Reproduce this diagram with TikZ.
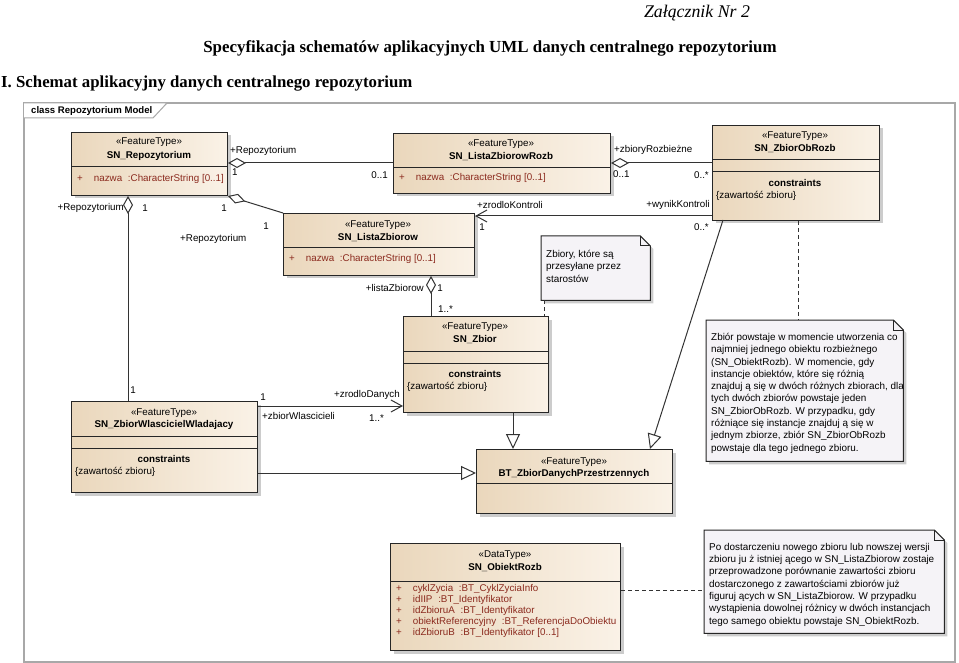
\documentclass[tikz,border=0pt]{standalone}
\usepackage{fontspec}
\setmainfont{Liberation Sans}
\newfontfamily\serifft{Liberation Serif}
\usetikzlibrary{arrows.meta,shadows,calc}
\definecolor{boxL}{HTML}{EAD7BC}
\definecolor{boxR}{HTML}{FAF2E7}
\definecolor{attrc}{HTML}{8B2A1E}
\definecolor{notefill}{HTML}{F5F3F7}
\definecolor{framecol}{HTML}{A8A8A8}
\definecolor{linec}{HTML}{333333}
\tikzset{
  umlbox/.style={draw=black!85, line width=1pt, left color=boxL, right color=boxR,
    inner sep=0pt, anchor=north west,
    drop shadow={shadow xshift=3pt, shadow yshift=-3pt, fill=black!25, opacity=0.8}},
  sepline/.style={draw=black!85, line width=1pt},
  txt/.style={inner sep=0pt, font=\fontsize{9.8}{11}\selectfont},
  bold/.style={inner sep=0pt, font=\fontsize{9.8}{11}\selectfont\bfseries},
  attr/.style={inner sep=0pt, anchor=west, text=attrc, font=\fontsize{9.8}{11}\selectfont},
  lbl/.style={inner sep=0pt, font=\fontsize{9.8}{11}\selectfont},
  conn/.style={draw=linec, line width=1pt},
  aggr/.style={conn, {Diamond[open,length=18pt,width=10pt]}-},
  nav/.style={conn, -{Straight Barb[length=11pt,width=12pt]}},
  gen/.style={conn, -{Triangle[open,length=15pt,width=14pt]}},
  dep/.style={draw=linec, line width=1pt, dash pattern=on 4pt off 3pt},
  notebox/.style={inner sep=0pt, anchor=north west},
  notetxt/.style={inner sep=0pt, anchor=north west, align=left, font=\fontsize{9.9}{12.3}\selectfont},
  notedraw/.style={draw=black!85, line width=1pt, fill=notefill},
  noteshadow/.style={fill=black!25, opacity=0.8},
}
\begin{document}
\begin{tikzpicture}[x=1pt,y=-1pt]
\useasboundingbox (0,0) rectangle (959,663);
% titles
\node[inner sep=0pt, font=\serifft\itshape\fontsize{17.8}{20}\selectfont] (zal) at (697,13) {Załącznik Nr 2};
\node[inner sep=0pt, font=\serifft\bfseries\fontsize{16.9}{19}\selectfont] (spec) at (490,48) {Specyfikacja schematów aplikacyjnych UML danych centralnego repozytorium};
\node[inner sep=0pt, anchor=west, font=\serifft\bfseries\fontsize{16.8}{20}\selectfont] (sch) at (1,84) {I. Schemat aplikacyjny danych centralnego repozytorium};
% frame
\draw[framecol, line width=1.2pt] (24,103) rectangle (955,662);
\draw[framecol, line width=1pt, fill=white] (24,103) -- (167,103) -- (153,118) -- (24,118);
\node[inner sep=0pt, anchor=west, font=\fontsize{9.6}{11}\selectfont\bfseries] (frm) at (31,111) {class Repozytorium Model};

% ---------- SN_Repozytorium
\node[umlbox, minimum width=156pt, minimum height=63pt] (rep) at (71,132) {};
\draw[sepline] (71,167) -- (227,167);
\node[txt] at (149,142) {«FeatureType»};
\node[bold] at (149,156) {SN\_Repozytorium};
\node[attr] at (77,179) {+\hspace{11pt}nazwa\hspace{3pt} :CharacterString [0..1]};

% ---------- SN_ListaZbiorow
\node[umlbox, minimum width=191pt, minimum height=62pt] (lz) at (283,213) {};
\draw[sepline] (283,248) -- (474,248);
\node[txt] at (378,225) {«FeatureType»};
\node[bold] at (378,238) {SN\_ListaZbiorow};
\node[attr] at (289,259) {+\hspace{11pt}nazwa\hspace{3pt} :CharacterString [0..1]};

% ---------- SN_ListaZbiorowRozb
\node[umlbox, minimum width=217pt, minimum height=60pt] (lzr) at (393,133) {};
\draw[sepline] (393,168) -- (610,168);
\node[txt] at (501,144) {«FeatureType»};
\node[bold] at (501,157) {SN\_ListaZbiorowRozb};
\node[attr] at (399,178) {+\hspace{11pt}nazwa\hspace{3pt} :CharacterString [0..1]};

% ---------- SN_ZbiorObRozb
\node[umlbox, minimum width=167pt, minimum height=95pt] (zor) at (712,125) {};
\draw[sepline] (712,160) -- (879,160);
\draw[sepline] (712,172) -- (879,172);
\node[txt] at (795,136) {«FeatureType»};
\node[bold] at (795,149) {SN\_ZbiorObRozb};
\node[bold] at (795,183) {constraints};
\node[txt, anchor=west] at (716,196) {\{zawartość zbioru\}};

% ---------- SN_Zbior
\node[umlbox, minimum width=145pt, minimum height=96pt] (zb) at (403,316) {};
\draw[sepline] (403,351) -- (548,351);
\draw[sepline] (403,363) -- (548,363);
\node[txt] at (475,327) {«FeatureType»};
\node[bold] at (475,340) {SN\_Zbior};
\node[bold] at (475,374) {constraints};
\node[txt, anchor=west] at (407,387) {\{zawartość zbioru\}};

% ---------- SN_ZbiorWlascicielWladajacy
\node[umlbox, minimum width=186pt, minimum height=91pt] (zww) at (71,401) {};
\draw[sepline] (71,436) -- (257,436);
\draw[sepline] (71,448) -- (257,448);
\node[txt] at (164,413) {«FeatureType»};
\node[bold] at (164,425) {SN\_ZbiorWlascicielWladajacy};
\node[bold] at (164,459) {constraints};
\node[txt, anchor=west] at (75,472) {\{zawartość zbioru\}};

% ---------- BT_ZbiorDanychPrzestrzennych
\node[umlbox, minimum width=196pt, minimum height=64pt] (bt) at (476,449) {};
\draw[sepline] (476,483) -- (672,483);
\node[txt] at (574,462) {«FeatureType»};
\node[bold] at (574,474) {BT\_ZbiorDanychPrzestrzennych};

% ---------- SN_ObiektRozb
\node[umlbox, minimum width=230pt, minimum height=107pt] (ob) at (390,543) {};
\draw[sepline] (390,581) -- (620,581);
\node[txt] at (505,555) {«DataType»};
\node[bold] at (505,568) {SN\_ObiektRozb};
\node[attr] at (396,589) {+\hspace{11pt}cyklZycia\hspace{3pt} :BT\_CyklZyciaInfo};
\node[attr] at (396,600) {+\hspace{11pt}idIIP\hspace{3pt} :BT\_Identyfikator};
\node[attr] at (396,611) {+\hspace{11pt}idZbioruA\hspace{3pt} :BT\_Identyfikator};
\node[attr] at (396,622) {+\hspace{11pt}obiektReferencyjny\hspace{3pt} :BT\_ReferencjaDoObiektu};
\node[attr] at (396,633) {+\hspace{11pt}idZbioruB\hspace{3pt} :BT\_Identyfikator [0..1]};

% ---------- notes
% note 1
\node[notebox, minimum width=109pt, minimum height=64pt] (n1) at (541,236) {};
\fill[noteshadow] ([shift={(3pt,-3pt)}]n1.north west) -- ([shift={(-7pt,-3pt)}]n1.north east) -- ([shift={(3pt,-13pt)}]n1.north east) -- ([shift={(3pt,-3pt)}]n1.south east) -- ([shift={(3pt,-3pt)}]n1.south west) -- cycle;
\draw[notedraw] (n1.north west) -- ([xshift=-10pt]n1.north east) -- ([yshift=-10pt]n1.north east) -- (n1.south east) -- (n1.south west) -- cycle;
\draw[line width=1pt, draw=black!85] ([xshift=-10pt]n1.north east) -- ([shift={(-10pt,-10pt)}]n1.north east) -- ([yshift=-10pt]n1.north east);
\node[notetxt] at (546,250) {Zbiory, które są\\przesyłane przez\\starostów};

% note 2
\node[notebox, minimum width=197pt, minimum height=141pt] (n2) at (706,320) {};
\fill[noteshadow] ([shift={(3pt,-3pt)}]n2.north west) -- ([shift={(-7pt,-3pt)}]n2.north east) -- ([shift={(3pt,-13pt)}]n2.north east) -- ([shift={(3pt,-3pt)}]n2.south east) -- ([shift={(3pt,-3pt)}]n2.south west) -- cycle;
\draw[notedraw] (n2.north west) -- ([xshift=-10pt]n2.north east) -- ([yshift=-10pt]n2.north east) -- (n2.south east) -- (n2.south west) -- cycle;
\draw[line width=1pt, draw=black!85] ([xshift=-10pt]n2.north east) -- ([shift={(-10pt,-10pt)}]n2.north east) -- ([yshift=-10pt]n2.north east);
\node[notetxt] at (711,333) {Zbiór powstaje w momencie utworzenia co\\najmniej jednego obiektu rozbieżnego\\(SN\_ObiektRozb). W momencie, gdy\\instancje obiektów, które się różnią\\znajduj ą się w dwóch różnych zbiorach, dla\\tych dwóch zbiorów powstaje jeden\\SN\_ZbiorObRozb. W przypadku, gdy\\różniące się instancje znajduj ą się w\\jednym zbiorze, zbiór SN\_ZbiorObRozb\\powstaje dla tego jednego zbioru.};

% note 3
\node[notebox, minimum width=240pt, minimum height=103pt] (n3) at (704,530) {};
\fill[noteshadow] ([shift={(3pt,-3pt)}]n3.north west) -- ([shift={(-7pt,-3pt)}]n3.north east) -- ([shift={(3pt,-13pt)}]n3.north east) -- ([shift={(3pt,-3pt)}]n3.south east) -- ([shift={(3pt,-3pt)}]n3.south west) -- cycle;
\draw[notedraw] (n3.north west) -- ([xshift=-10pt]n3.north east) -- ([yshift=-10pt]n3.north east) -- (n3.south east) -- (n3.south west) -- cycle;
\draw[line width=1pt, draw=black!85] ([xshift=-10pt]n3.north east) -- ([shift={(-10pt,-10pt)}]n3.north east) -- ([yshift=-10pt]n3.north east);
\node[notetxt] at (709,543) {Po dostarczeniu nowego zbioru lub nowszej wersji\\zbioru ju ż istniej ącego w SN\_ListaZbiorow zostaje\\przeprowadzone porównanie zawartości zbioru\\dostarczonego z zawartościami zbiorów już\\figuruj ących w SN\_ListaZbiorow. W przypadku\\wystąpienia dowolnej różnicy w dwóch instancjach\\tego samego obiektu powstaje SN\_ObiektRozb.};

% ---------- helper coordinates
\coordinate (yA) at (0,163);
\coordinate (yB) at (0,216);
\coordinate (yC) at (0,406);
\coordinate (yD) at (0,473);
\coordinate (yE) at (0,590);
\coordinate (xA) at (128,0);
\coordinate (xB) at (431,0);
\coordinate (xC) at (513,0);
\coordinate (xD) at (544,0);
\coordinate (xE) at (798,0);

% ---------- connectors
\draw[aggr] (rep.east |- yA) -- (lzr.west |- yA);
\node[lbl, anchor=west] at (230,151) {+Repozytorium};
\node[lbl, anchor=west] at (232,172) {1};
\node[lbl, anchor=east] at (388,175) {0..1};

\draw[aggr] (rep.south east) -- (lz.north west);
\node[lbl] at (224,208) {1};
\node[lbl] at (266,226) {1};
\node[lbl, anchor=west] at (180,239) {+Repozytorium};

\draw[aggr] (xA |- rep.south) -- (xA |- zww.north);
\node[lbl, anchor=east] at (124,208) {+Repozytorium};
\node[lbl] at (145,208) {1};
\node[lbl] at (133,390) {1};

\draw[aggr] (xB |- lz.south) -- (xB |- zb.north);
\node[lbl, anchor=east] at (424,288) {+listaZbiorow};
\node[lbl] at (440,288) {1};
\node[lbl, anchor=west] at (438,309) {1..*};

\draw[aggr] (lzr.east |- yA) -- (zor.west |- yA);
\node[lbl, anchor=west] at (614,150) {+zbioryRozbieżne};
\node[lbl, anchor=west] at (613,174) {0..1};
\node[lbl, anchor=east] at (709,175) {0..*};

\draw[nav] (zor.west |- yB) -- (lz.east |- yB);
\node[lbl, anchor=west] at (477,205) {+zrodloKontroli};
\node[lbl] at (482,227) {1};
\node[lbl, anchor=east] at (710,205) {+wynikKontroli};
\node[lbl, anchor=east] at (709,227) {0..*};

\draw[nav] (zww.east |- yC) -- (zb.west |- yC);
\node[lbl] at (263,397) {1};
\node[lbl, anchor=west] at (262,416) {+zbiorWlascicieli};
\node[lbl, anchor=east] at (400,395) {+zrodloDanych};
\node[lbl, anchor=west] at (369,418) {1..*};

\coordinate (zorB) at (723,220);
\coordinate (btT) at (650,449);
\draw[gen] (zorB) -- (btT);
\draw[gen] (xC |- zb.south) -- (xC |- bt.north);
\draw[gen] (zww.east |- yD) -- (bt.west |- yD);

\draw[dep] (xD |- n1.south) -- (xD |- zb.north);
\draw[dep] (xE |- zor.south) -- (xE |- n2.north);
\draw[dep] (ob.east |- yE) -- (n3.west |- yE);
\end{tikzpicture}
\end{document}
